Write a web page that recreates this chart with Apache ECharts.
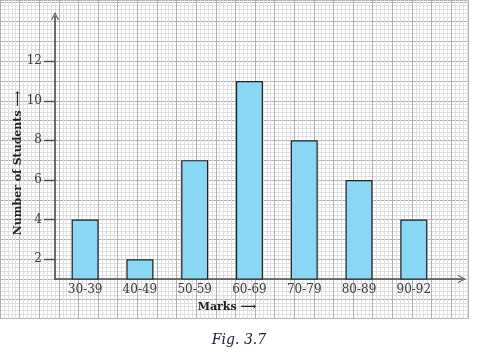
<!DOCTYPE html>
<html>
<head>
<meta charset="utf-8">
<script src="https://cdn.jsdelivr.net/npm/echarts@6/dist/echarts.min.js"></script>
<style>html,body{margin:0;padding:0;background:#fff;}#c{width:479px;height:356px;}</style>
</head>
<body>
<div id="c"></div>
<script>
var categories = ['30-39', '40-49', '50-59', '60-69', '70-79', '80-89', '90-92'];
var students = [4, 2, 7, 11, 8, 6, 4];
var yTicks = [2, 4, 6, 8, 10, 12];
var catPositions = [1, 2, 3, 4, 5, 6, 7];

var chart = echarts.init(document.getElementById('c'), null, {renderer: 'canvas'});
var serif = '"DejaVu Serif", "Liberation Serif", serif';
var arrowPath = 'path://M0,10 L5,0 L10,10 L8.6,10 L5,2.6 L1.4,10 Z';

var barData = catPositions.map(function (p, i) { return [p, students[i]]; });

chart.setOption({
  backgroundColor: '#ffffff',
  animation: false,
  grid: [
    {left: 55, top: 16, width: 407, height: 263},
    {left: -4.4, top: 0, width: 472.4, height: 318.6}
  ],
  xAxis: [
    {
      type: 'value', gridIndex: 0, min: 0.45, max: 7.88,
      axisLine: {show: true, lineStyle: {color: '#4a4a4a', width: 1.6}, symbol: ['none', arrowPath], symbolSize: [8, 9]},
      axisTick: {show: false},
      splitLine: {show: false},
      axisLabel: {
        customValues: catPositions,
        formatter: function (v) { return categories[Math.round(v) - 1] || ''; },
        fontFamily: serif, fontSize: 12, color: '#3a3a3a', margin: 5
      }
    },
    {
      type: 'value', gridIndex: 1, min: -3, max: 20.86, interval: 1,
      axisLine: {show: false}, axisTick: {show: false}, axisLabel: {show: false},
      splitLine: {show: true, lineStyle: {color: '#b0b0b0', width: 1}},
      minorTick: {show: false, splitNumber: 5},
      minorSplitLine: {show: true, lineStyle: {color: '#e0e0e0', width: 1}}
    }
  ],
  yAxis: [
    {
      type: 'value', gridIndex: 0, min: 1, max: 14.28,
      axisLine: {show: true, lineStyle: {color: '#4a4a4a', width: 1.6}, symbol: ['none', arrowPath], symbolSize: [8, 9]},
      axisTick: {show: true, customValues: yTicks, length: 11, lineStyle: {color: '#4a4a4a', width: 1.4}},
      splitLine: {show: false},
      axisLabel: {customValues: yTicks, fontFamily: serif, fontSize: 12, color: '#3a3a3a', margin: 13}
    },
    {
      type: 'value', gridIndex: 1, min: -1, max: 15.09, interval: 1,
      axisLine: {show: false}, axisTick: {show: false}, axisLabel: {show: false},
      splitLine: {show: true, lineStyle: {color: '#b0b0b0', width: 1}},
      minorTick: {show: false, splitNumber: 5},
      minorSplitLine: {show: true, lineStyle: {color: '#e0e0e0', width: 1}}
    }
  ],
  series: [{
    type: 'bar',
    xAxisIndex: 0, yAxisIndex: 0,
    data: barData,
    barWidth: 27,
    itemStyle: {color: '#8ad6f5', borderColor: '#222', borderWidth: 1.2},
    z: 5
  }],
  graphic: [
    {
      type: 'text', x: 18, y: 163, rotation: Math.PI / 2, z: 10,
      style: {text: 'Number of Students \u27F6', font: 'bold 11px ' + serif, fill: '#222', align: 'center', verticalAlign: 'middle'}
    },
    {
      type: 'text', x: 227, y: 307, z: 10,
      style: {text: 'Marks \u27F6', font: 'bold 11px ' + serif, fill: '#222', align: 'center', verticalAlign: 'middle'}
    },
    {
      type: 'text', x: 239, y: 340, z: 10,
      style: {text: 'Fig. 3.7', font: 'italic 14px ' + serif, fill: '#1c1c40', align: 'center', verticalAlign: 'middle'}
    }
  ]
});
</script>
</body>
</html>
